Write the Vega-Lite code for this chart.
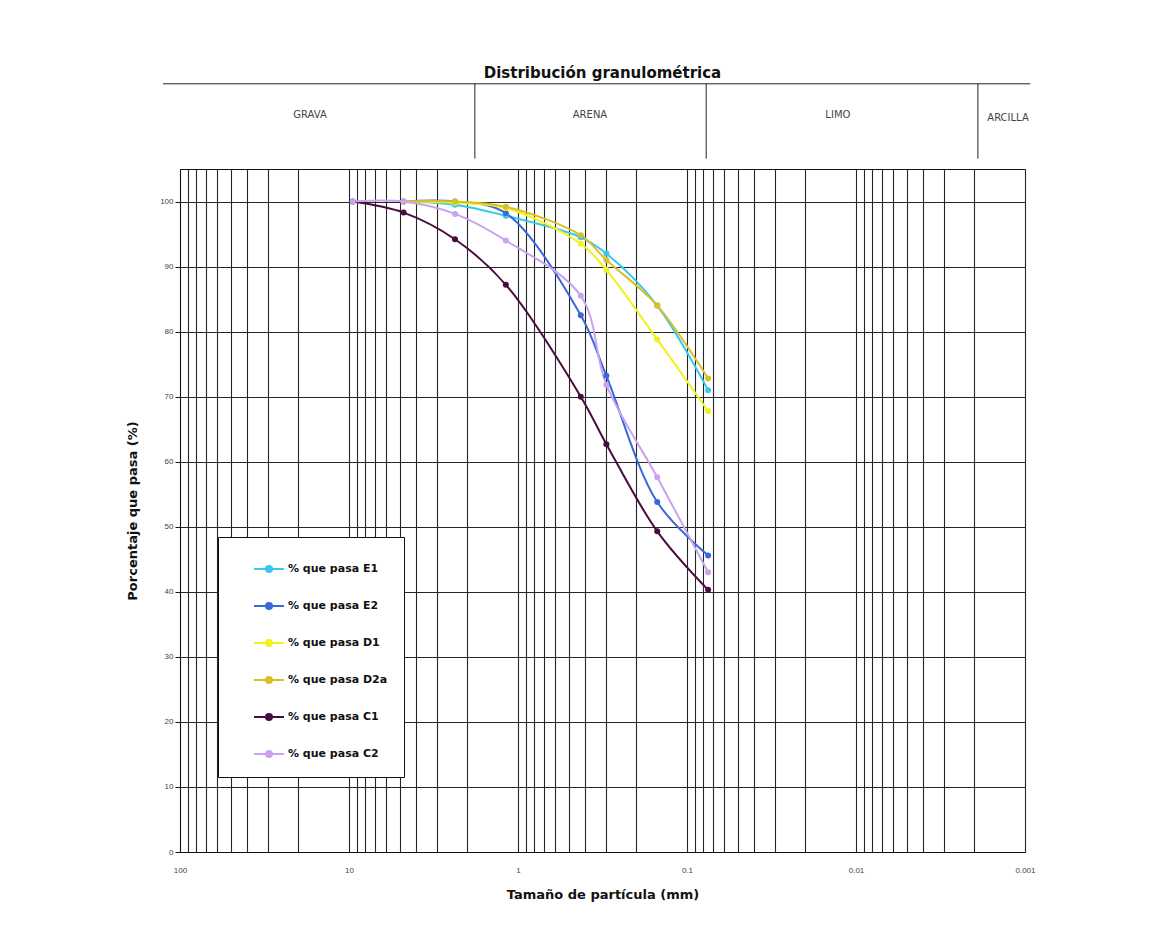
{
  "$schema": "https://vega.github.io/schema/vega-lite/v6.json",
  "width": 845,
  "height": 683,
  "padding": {"left": 126, "top": 66, "right": 10, "bottom": 10},
  "background": "white",
  "title": {
    "text": "Distribución granulométrica",
    "font": "DejaVu Sans",
    "fontSize": 15,
    "fontWeight": "bold",
    "color": "#111",
    "anchor": "middle",
    "frame": "group",
    "offset": 2
  },
  "config": {
    "view": {"stroke": "#111", "strokeWidth": 1},
    "axis": {
      "labelFont": "Liberation Sans",
      "labelFontSize": 8,
      "labelColor": "#444",
      "titleFont": "DejaVu Sans",
      "titleFontSize": 13,
      "titleFontWeight": "bold",
      "titleColor": "#111",
      "domainColor": "#111",
      "tickColor": "#111",
      "gridColor": "#262626",
      "gridWidth": 1.1,
      "gridOpacity": 1
    }
  },
  "datasets": {
    "curves": [
      {"s": "% que pasa E1", "d": 4.75, "p": 100},
      {"s": "% que pasa E1", "d": 2.36, "p": 99.5},
      {"s": "% que pasa E1", "d": 1.18, "p": 97.8},
      {"s": "% que pasa E1", "d": 0.425, "p": 94.5},
      {"s": "% que pasa E1", "d": 0.3, "p": 92},
      {"s": "% que pasa E1", "d": 0.15, "p": 84},
      {"s": "% que pasa E1", "d": 0.075, "p": 71},
      {"s": "% que pasa E2", "d": 4.75, "p": 100},
      {"s": "% que pasa E2", "d": 2.36, "p": 100},
      {"s": "% que pasa E2", "d": 1.18, "p": 98.2},
      {"s": "% que pasa E2", "d": 0.425, "p": 82.5},
      {"s": "% que pasa E2", "d": 0.3, "p": 73.2},
      {"s": "% que pasa E2", "d": 0.15, "p": 53.8},
      {"s": "% que pasa E2", "d": 0.075, "p": 45.6},
      {"s": "% que pasa D1", "d": 4.75, "p": 100},
      {"s": "% que pasa D1", "d": 2.36, "p": 99.8},
      {"s": "% que pasa D1", "d": 1.18, "p": 99},
      {"s": "% que pasa D1", "d": 0.425, "p": 93.5},
      {"s": "% que pasa D1", "d": 0.3, "p": 89.5},
      {"s": "% que pasa D1", "d": 0.15, "p": 78.8},
      {"s": "% que pasa D1", "d": 0.075, "p": 67.8},
      {"s": "% que pasa D2a", "d": 4.75, "p": 100},
      {"s": "% que pasa D2a", "d": 2.36, "p": 100},
      {"s": "% que pasa D2a", "d": 1.18, "p": 99.2},
      {"s": "% que pasa D2a", "d": 0.425, "p": 94.8},
      {"s": "% que pasa D2a", "d": 0.3, "p": 91},
      {"s": "% que pasa D2a", "d": 0.15, "p": 84},
      {"s": "% que pasa D2a", "d": 0.075, "p": 72.8},
      {"s": "% que pasa C1", "d": 9.5, "p": 100},
      {"s": "% que pasa C1", "d": 4.75, "p": 98.3},
      {"s": "% que pasa C1", "d": 2.36, "p": 94.2},
      {"s": "% que pasa C1", "d": 1.18, "p": 87.2},
      {"s": "% que pasa C1", "d": 0.425, "p": 70},
      {"s": "% que pasa C1", "d": 0.3, "p": 62.7},
      {"s": "% que pasa C1", "d": 0.15, "p": 49.3},
      {"s": "% que pasa C1", "d": 0.075, "p": 40.3},
      {"s": "% que pasa C2", "d": 9.5, "p": 100},
      {"s": "% que pasa C2", "d": 4.75, "p": 100},
      {"s": "% que pasa C2", "d": 2.36, "p": 98.1},
      {"s": "% que pasa C2", "d": 1.18, "p": 94},
      {"s": "% que pasa C2", "d": 0.425, "p": 85.5},
      {"s": "% que pasa C2", "d": 0.3, "p": 71.8},
      {"s": "% que pasa C2", "d": 0.15, "p": 57.6},
      {"s": "% que pasa C2", "d": 0.075, "p": 43}
    ],
    "bandLines": [
      {"a": 126, "b": 0.00093, "lo": 118.1, "hi": 118.1},
      {"a": 1.8, "b": 1.8, "lo": 106.6, "hi": 118.1},
      {"a": 0.077, "b": 0.077, "lo": 106.6, "hi": 118.1},
      {"a": 0.0019, "b": 0.0019, "lo": 106.6, "hi": 118.1}
    ],
    "bandLabels": [
      {"name": "GRAVA", "a": 17, "lv": 113.3},
      {"name": "ARENA", "a": 0.375, "lv": 113.3},
      {"name": "LIMO", "a": 0.0128, "lv": 113.3},
      {"name": "ARCILLA", "a": 0.00126, "lv": 112.8}
    ]
  },
  "layer": [
    {
      "data": {"name": "curves"},
      "mark": {"type": "line", "strokeWidth": 2, "interpolate": "catmull-rom"},
      "encoding": {
        "x": {
          "field": "d",
          "type": "quantitative",
          "scale": {"type": "log", "domain": [0.001, 100], "reverse": true, "nice": false},
          "axis": {
            "title": "Tamaño de partícula (mm)",
            "values": [100, 90, 80, 70, 60, 50, 40, 30, 20, 10, 9, 8, 7, 6, 5, 4, 3, 2, 1, 0.9, 0.8, 0.7, 0.6, 0.5, 0.4, 0.3, 0.2, 0.1, 0.09, 0.08, 0.07, 0.06, 0.05, 0.04, 0.03, 0.02, 0.01, 0.009, 0.008, 0.007, 0.006, 0.005, 0.004, 0.003, 0.002, 0.001],
            "format": "~g",
            "labelExpr": "indexof([100, 10, 1, 0.1, 0.01, 0.001], datum.value) >= 0 ? datum.label : ''",
            "grid": true,
            "ticks": false,
            "labelFlush": false,
            "labelAlign": "center",
            "labelPadding": 14,
            "titlePadding": 14,
            "labelOverlap": false
          }
        },
        "y": {
          "field": "p",
          "type": "quantitative",
          "scale": {"domain": [0, 105], "nice": false, "zero": true},
          "axis": {
            "title": "Porcentaje que pasa (%)",
            "values": [0, 10, 20, 30, 40, 50, 60, 70, 80, 90, 100],
            "grid": true,
            "tickSize": 5,
            "labelPadding": 2,
            "labelFlush": false,
            "titlePadding": 20
          }
        },
        "color": {
          "field": "s",
          "type": "nominal",
          "scale": {
            "domain": ["% que pasa E1", "% que pasa E2", "% que pasa D1", "% que pasa D2a", "% que pasa C1", "% que pasa C2"],
            "range": ["#38C8EC", "#3A68D8", "#F2F21A", "#D8C028", "#4A0C3E", "#C9A2F2"]
          },
          "legend": {
            "title": null,
            "orient": "none",
            "legendX": 38,
            "legendY": 368,
            "fillColor": "white",
            "strokeColor": "#111",
            "padding": 16,
            "symbolOffset": 19,
            "symbolType": "M-1,0H1M-0.2,0A0.2,0.2 0 1,1 0.2,0A0.2,0.2 0 1,1 -0.2,0Z",
            "symbolSize": 900,
            "symbolStrokeWidth": 2,
            "labelFont": "DejaVu Sans",
            "labelFontSize": 11,
            "labelFontWeight": "bold",
            "labelColor": "#111",
            "labelOffset": 3,
            "rowPadding": 14,
            "encode": {
              "symbols": {
                "update": {
                  "fill": {"scale": "color", "field": "value"},
                  "stroke": {"scale": "color", "field": "value"}
                }
              }
            }
          }
        }
      }
    },
    {
      "data": {"name": "curves"},
      "mark": {"type": "point", "filled": true, "size": 36, "opacity": 1},
      "encoding": {
        "x": {"field": "d", "type": "quantitative"},
        "y": {"field": "p", "type": "quantitative"},
        "color": {"field": "s", "type": "nominal"}
      }
    },
    {
      "data": {"name": "bandLines"},
      "mark": {"type": "rule", "color": "#222", "strokeWidth": 1},
      "encoding": {
        "x": {"field": "a", "type": "quantitative"},
        "x2": {"field": "b"},
        "y": {"field": "lo", "type": "quantitative"},
        "y2": {"field": "hi"}
      }
    },
    {
      "data": {"name": "bandLabels"},
      "mark": {"type": "text", "font": "DejaVu Sans", "fontSize": 10, "color": "#444", "align": "center", "baseline": "middle"},
      "encoding": {
        "x": {"field": "a", "type": "quantitative"},
        "y": {"field": "lv", "type": "quantitative"},
        "text": {"field": "name"}
      }
    }
  ]
}
